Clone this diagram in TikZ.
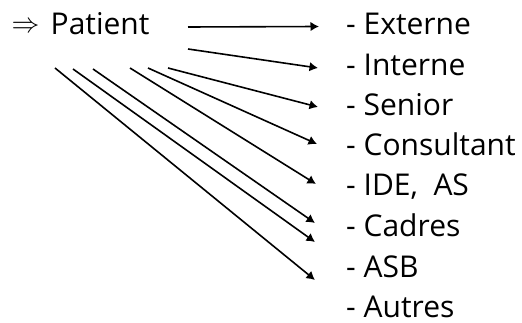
\documentclass[tikz,border=0pt]{standalone}
\usepackage{fontspec}
\setmainfont{Open Sans}
\usetikzlibrary{arrows.meta}
\begin{document}
\begin{tikzpicture}[x=1pt,y=-1pt,
  lbl/.style={anchor=base west,inner sep=0pt,font=\fontsize{30}{35}\selectfont},
  conn/.style={line width=1.6pt,-{Latex[length=8.5pt,width=9.5pt]}}]
\useasboundingbox (0,0) rectangle (522,323);
\node[inner sep=0pt,font=\fontsize{24.88}{30}\selectfont] (imp) at (25.5,27.5) {\scalebox{1.12}{$\Rightarrow$}};
\node[lbl] (pat) at (50.5,35) {Patient};
\node[lbl] (ext) at (346,35) {- Externe};
\node[lbl] (int) at (346,75.5) {- Interne};
\node[lbl] (sen) at (346,115.5) {- Senior};
\node[lbl] (con) at (346,156) {- Consultant};
\node[lbl] (ide) at (346,196) {- IDE,\ \ AS};
\node[lbl] (cad) at (346,236.5) {- Cadres};
\node[lbl] (asb) at (346,277) {- ASB};
\node[lbl] (aut) at (346,317) {- Autres};
% start points below/right of Patient
\coordinate (s1) at (188,27);
\coordinate (s2) at (188,49);
\coordinate (s3) at (168,68);
\coordinate (s4) at (148,68);
\coordinate (s5) at (130,68);
\coordinate (s6) at (93,69);
\coordinate (s7) at (73,69);
\coordinate (s8) at (55,68);
% arrow tips
\coordinate (t1) at (319,26.5);
\coordinate (t2) at (318,68);
\coordinate (t3) at (318,107);
\coordinate (t4) at (317,144);
\coordinate (t5) at (316,184);
\coordinate (t6) at (315,223);
\coordinate (t7) at (315,242);
\coordinate (t8) at (315,280);
\foreach \i in {1,...,8} \draw[conn] (s\i) -- (t\i);
\end{tikzpicture}
\end{document}
